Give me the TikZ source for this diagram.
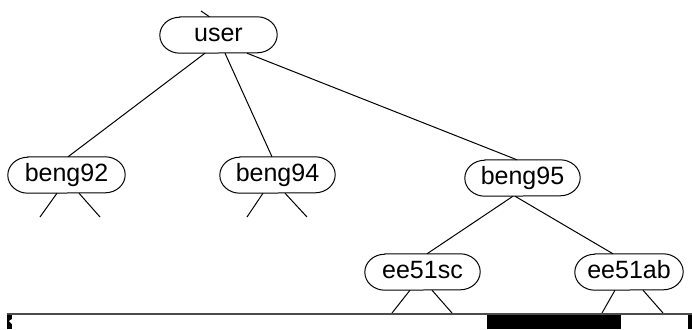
\documentclass[tikz,border=0pt]{standalone}
\usepackage{fontspec}
\setmainfont{Liberation Sans}
\begin{document}
\begin{tikzpicture}[x=1pt,y=-1pt,
  edge/.style={line width=1pt,black},
  tnode/.style={minimum height=36pt,inner sep=0pt,font=\fontsize{25}{25}\selectfont,text height=18pt,text depth=5pt}]
\useasboundingbox[fill=white] (0,0) rectangle (692,329);
\newcommand{\capsule}[1]{\draw[edge] ([xshift=20pt]#1.north west) -- ([xshift=-20pt]#1.north east) arc[start angle=90,end angle=-90,x radius=20pt,y radius=18pt] -- ([xshift=20pt]#1.south west) arc[start angle=270,end angle=90,x radius=20pt,y radius=18pt] -- cycle;}
\node[tnode,minimum width=117pt] (user) at (218.5,35) {user};
\node[tnode,minimum width=117pt] (beng92) at (66.5,175) {beng92};
\node[tnode,minimum width=115pt] (beng94) at (277.5,175) {beng94};
\node[tnode,minimum width=115pt] (beng95) at (522.5,178) {beng95};
\node[tnode,minimum width=115pt] (ee51sc) at (422.5,272) {ee51sc};
\node[tnode,minimum width=108pt] (ee51ab) at (629,272) {ee51ab};
\foreach \n in {user,beng92,beng94,beng95,ee51sc,ee51ab}{\capsule{\n}}
% connectors
\draw[edge] ([xshift=-13.5pt]user.south) -- ([xshift=1.5pt]beng92.north);
\draw[edge] ([xshift=6.5pt]user.south) -- ([xshift=-5.5pt]beng94.north);
\draw[edge] ([xshift=28.5pt]user.south) -- ([xshift=-5.5pt]beng95.north);
\draw[edge] ([xshift=-9.5pt]beng95.south) -- ([xshift=4.5pt]ee51sc.north);
\draw[edge] ([xshift=-7.5pt]beng95.south) -- ([xshift=-16pt]ee51ab.north);
% top stub
\coordinate (top) at (201,11);
\draw[edge] (top) -- ([xshift=-9pt]user.north);
% collapsed stubs
\coordinate (a1) at (40,217); \coordinate (a2) at (100,217);
\coordinate (b1) at (247,217); \coordinate (b2) at (307,217);
\coordinate (c1) at (392,313); \coordinate (c2) at (452,313);
\coordinate (d1) at (602,313); \coordinate (d2) at (663,313);
\draw[edge] ([xshift=-9.5pt]beng92.south) -- (a1);
\draw[edge] ([xshift=12.5pt]beng92.south) -- (a2);
\draw[edge] ([xshift=-14.5pt]beng94.south) -- (b1);
\draw[edge] ([xshift=7.5pt]beng94.south) -- (b2);
\draw[edge] ([xshift=-12.5pt]ee51sc.south) -- (c1);
\draw[edge] ([xshift=9.5pt]ee51sc.south) -- (c2);
\draw[edge] ([xshift=-14pt]ee51ab.south) -- (d1);
\draw[edge] ([xshift=14pt]ee51ab.south) -- (d2);
% scrollbar
\draw[line width=2pt,black!70] (7,314) -- (692,314);
\fill[black] (487,315) rectangle (621,329);
\fill[black] (7,315) rectangle (12,329);
\fill[white] (9,321) -- (12,319) -- (12,324) -- cycle;
\fill[black] (688,315) rectangle (692,329);
\end{tikzpicture}
\end{document}
